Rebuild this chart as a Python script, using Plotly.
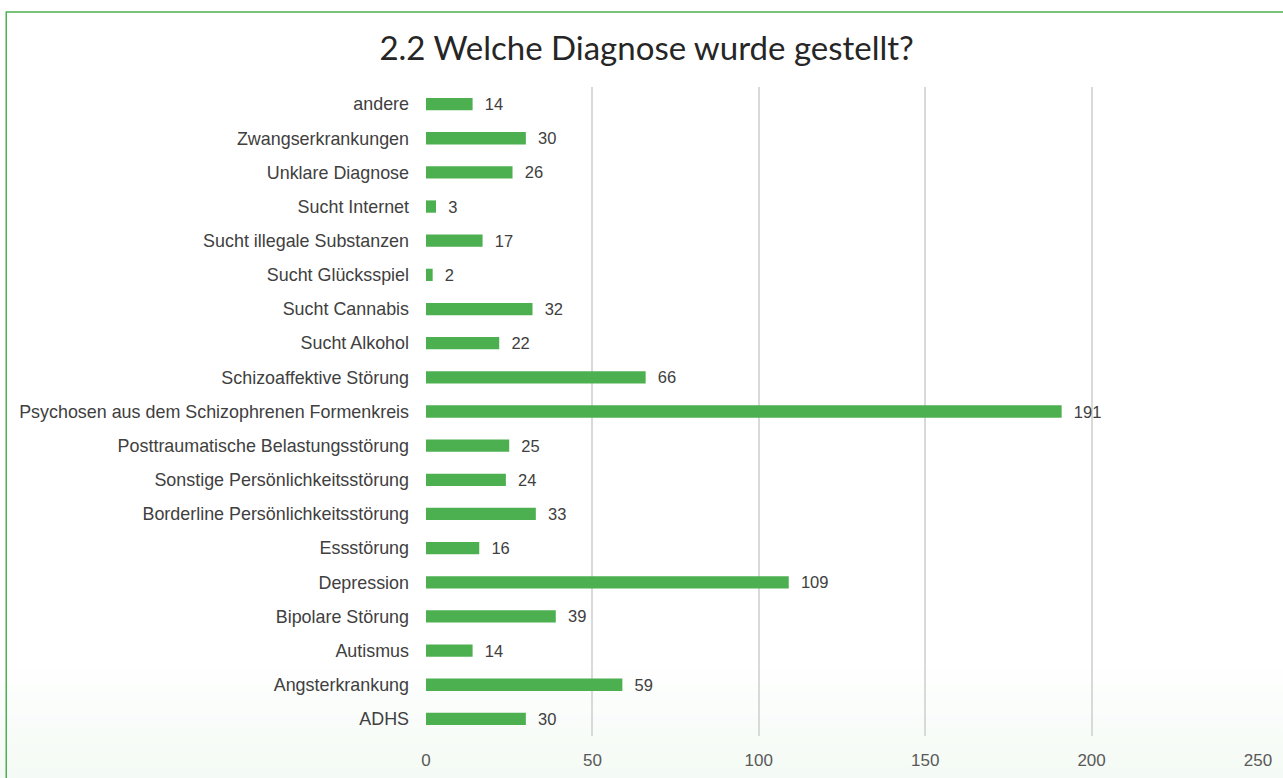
import plotly.graph_objects as go

categories = [
    "ADHS", "Angsterkrankung", "Autismus", "Bipolare Störung", "Depression",
    "Essstörung", "Borderline Persönlichkeitsstörung", "Sonstige Persönlichkeitsstörung",
    "Posttraumatische Belastungsstörung", "Psychosen aus dem Schizophrenen Formenkreis",
    "Schizoaffektive Störung", "Sucht Alkohol", "Sucht Cannabis", "Sucht Glücksspiel",
    "Sucht illegale Substanzen", "Sucht Internet", "Unklare Diagnose",
    "Zwangserkrankungen", "andere",
]
values = [30, 59, 14, 39, 109, 16, 33, 24, 25, 191, 66, 22, 32, 2, 17, 3, 26, 30, 14]
x_ticks = [0, 50, 100, 150, 200, 250]

GREEN = "#4CAF50"
FONT = "Liberation Sans, Arial, sans-serif"

fig = go.Figure()
fig.add_trace(go.Bar(
    y=categories, x=values, orientation="h",
    marker=dict(color=GREEN, line=dict(width=0)),
    width=0.36,
    text=values,
    texttemplate="\u00a0\u00a0%{x}",
    textposition="outside",
    constraintext="none",
    cliponaxis=False,
    textfont=dict(family=FONT, size=16.5, color="#404040"),
    hoverinfo="x+y",
))

shapes = []
# soft green gradient at the bottom of the chart (decorative background)
n = 30
y0, y1 = 0.115, -0.06
for i in range(n):
    a = y0 + (y1 - y0) * i / n
    b = y0 + (y1 - y0) * (i + 1) / n
    op = 0.06 * (i + 1) / n
    shapes.append(dict(type="rect", xref="paper", yref="paper",
                       x0=-0.52, x1=1.03, y0=b, y1=a,
                       fillcolor=f"rgba(76,175,80,{op:.4f})", line=dict(width=0),
                       layer="below"))
shapes.append(dict(type="rect", xref="paper", yref="paper",
                   x0=-0.52, x1=1.03, y0=-0.1, y1=-0.06,
                   fillcolor="rgba(76,175,80,0.06)", line=dict(width=0), layer="below"))
# green frame
shapes.append(dict(type="path", xref="paper", yref="paper",
                   path="M -0.5045,-0.1 L -0.5045,1.1155 L 1.04,1.1155",
                   line=dict(color=GREEN, width=1.5), layer="above"))

fig.update_layout(
    width=1283, height=778,
    margin=dict(l=426, r=25, t=87, b=42, autoexpand=False),
    paper_bgcolor="white",
    plot_bgcolor="rgba(0,0,0,0)",
    title=dict(text="2.2 Welche Diagnose wurde gestellt?",
               font=dict(family="Lato, sans-serif", size=33, color="#262626"),
               x=0.504, xanchor="center", y=0.938, yanchor="middle"),
    showlegend=False,
    shapes=shapes,
    xaxis=dict(range=[0, 250], tickvals=x_ticks, ticktext=[str(v) for v in x_ticks],
               showgrid=True, gridcolor="#d9d9d9", gridwidth=1.5,
               zeroline=False, showline=False, ticks="", automargin=False,
               tickfont=dict(family=FONT, size=17, color="#595959"),
               ticklabelstandoff=12),
    yaxis=dict(categoryorder="array", categoryarray=categories,
               showgrid=False, zeroline=False, showline=False, ticks="", automargin=False,
               tickfont=dict(family=FONT, size=17.9, color="#404040"),
               ticklabelstandoff=16),
)

fig.write_html("out.html", config={"displayModeBar": False},
               post_script="document.body.style.margin='0';document.body.style.overflow='hidden';")
